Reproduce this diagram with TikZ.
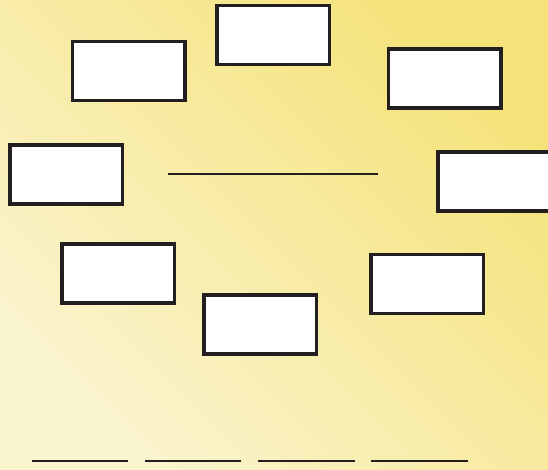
\documentclass[tikz,border=0pt]{standalone}
\usepackage{xcolor}
\usepackage{tikz}
\definecolor{ink}{HTML}{231F20}
\definecolor{paleyellow}{HTML}{FAF4CE}
\definecolor{deepyellow}{HTML}{F5E37A}

\begin{document}
\begin{tikzpicture}[x=1pt, y=-1pt,
    blank/.style={rectangle, draw=ink, fill=white, line width=3.5pt, minimum width=112.5pt, minimum height=59pt, inner sep=0pt},
    rule/.style={draw=ink, line width=2.4pt}]
    \useasboundingbox (0,0) rectangle (548,470);
    \clip (0,0) rectangle (548,470);
    \shade[top color=deepyellow, bottom color=paleyellow, shading angle=-45] (0,0) rectangle (548,470);

    \node[blank] (nw) at (128.5,71) {};
    \node[blank] (n) at (273,35) {};
    \node[blank] (ne) at (444.5,78.5) {};
    \node[blank] (w) at (66,174.5) {};
    \node[blank] (e) at (494,181.5) {};
    \node[blank] (sw) at (118,273.5) {};
    \node[blank] (s) at (260,324.5) {};
    \node[blank] (se) at (427,284) {};

    \draw[rule] (168,174) -- (378,174);

    \draw[rule] (32,461) -- (128,461);
    \draw[rule] (145,461) -- (241,461);
    \draw[rule] (258,461) -- (355,461);
    \draw[rule] (371,461) -- (468,461);
\end{tikzpicture}
\end{document}
